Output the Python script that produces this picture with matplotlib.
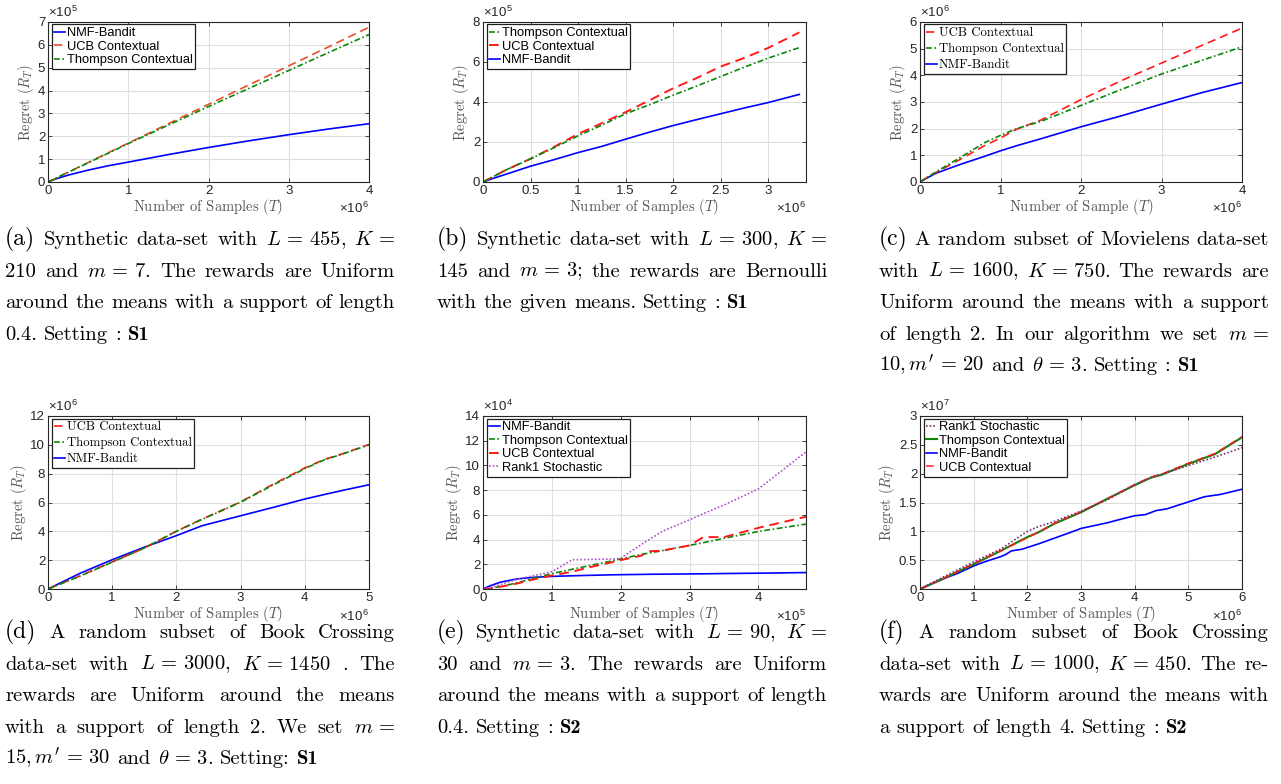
import re
import matplotlib
matplotlib.use('Agg')
import matplotlib.pyplot as plt
from matplotlib.ticker import MultipleLocator, FuncFormatter
from matplotlib.transforms import IdentityTransform

W, H = 1281, 784
plt.rcParams['font.family'] = 'serif'
plt.rcParams['font.serif'] = ['cmr10']
plt.rcParams['mathtext.fontset'] = 'cm'
plt.rcParams['axes.unicode_minus'] = False

# ---------------- data ----------------
# (a)  x in samples, y in regret
A_X = [0, 0.1e6, 0.25e6, 0.5e6, 0.75e6, 1.0e6, 1.5e6, 2.0e6, 2.5e6, 3.0e6, 3.5e6, 4.0e6]
A_NMF = [0, 0.14e5, 0.30e5, 0.52e5, 0.71e5, 0.87e5, 1.20e5, 1.51e5, 1.80e5, 2.07e5, 2.32e5, 2.55e5]
A_UCB = [0, 0.17e5, 0.43e5, 0.85e5, 1.28e5, 1.70e5, 2.55e5, 3.40e5, 4.24e5, 5.08e5, 5.92e5, 6.77e5]
A_TS = [0, 0.17e5, 0.42e5, 0.84e5, 1.26e5, 1.68e5, 2.49e5, 3.30e5, 4.09e5, 4.88e5, 5.67e5, 6.45e5]

# (b)
B_X = [0, 0.1e6, 0.25e6, 0.5e6, 0.75e6, 1.0e6, 1.25e6, 1.5e6, 1.75e6, 2.0e6, 2.25e6, 2.5e6, 2.75e6, 3.0e6, 3.33e6]
B_NMF = [0, 0.17e5, 0.40e5, 0.79e5, 1.12e5, 1.47e5, 1.78e5, 2.14e5, 2.49e5, 2.82e5, 3.12e5, 3.41e5, 3.70e5, 3.97e5, 4.38e5]
B_TS = [0, 0.25e5, 0.62e5, 1.16e5, 1.72e5, 2.31e5, 2.84e5, 3.41e5, 3.86e5, 4.34e5, 4.80e5, 5.27e5, 5.74e5, 6.19e5, 6.72e5]
B_UCB = [0, 0.25e5, 0.62e5, 1.16e5, 1.76e5, 2.40e5, 2.94e5, 3.49e5, 4.08e5, 4.68e5, 5.20e5, 5.77e5, 6.20e5, 6.70e5, 7.48e5]

# (c)
C_X = [0, 0.1e6, 0.2e6, 0.5e6, 0.8e6, 1.0e6, 1.2e6, 1.5e6, 2.0e6, 2.5e6, 3.0e6, 3.5e6, 4.0e6]
C_NMF = [0, 0.17e6, 0.33e6, 0.66e6, 0.96e6, 1.17e6, 1.36e6, 1.62e6, 2.07e6, 2.48e6, 2.92e6, 3.35e6, 3.73e6]
C_TS = [0, 0.20e6, 0.38e6, 0.92e6, 1.47e6, 1.75e6, 2.00e6, 2.27e6, 2.87e6, 3.47e6, 4.05e6, 4.56e6, 5.07e6]
C_UCB = [0, 0.19e6, 0.36e6, 0.85e6, 1.36e6, 1.65e6, 1.98e6, 2.32e6, 3.09e6, 3.80e6, 4.46e6, 5.12e6, 5.77e6]

# (d)
D_X = [0, 0.5e6, 1.0e6, 1.5e6, 2.0e6, 2.4e6, 3.0e6, 3.5e6, 4.0e6, 4.3e6, 4.6e6, 5.0e6]
D_NMF = [0, 1.09e6, 2.03e6, 2.90e6, 3.70e6, 4.39e6, 5.08e6, 5.65e6, 6.24e6, 6.55e6, 6.85e6, 7.23e6]
D_UCB = [0, 0.91e6, 1.88e6, 2.84e6, 4.01e6, 4.85e6, 6.04e6, 7.25e6, 8.40e6, 8.98e6, 9.40e6, 10.02e6]
D_TS = [0, 0.90e6, 1.86e6, 2.84e6, 4.00e6, 4.83e6, 6.02e6, 7.20e6, 8.35e6, 8.95e6, 9.38e6, 10.0e6]

# (e)
E_X = [0, 0.1e5, 0.25e5, 0.5e5, 0.75e5, 1.0e5, 1.3e5, 1.5e5, 1.9e5, 2.0e5, 2.3e5, 2.4e5, 2.6e5,
       3.0e5, 3.2e5, 3.5e5, 4.0e5, 4.69e5]
E_NMF = [0, 0.25e4, 0.55e4, 0.82e4, 0.95e4, 1.02e4, 1.07e4, 1.10e4, 1.15e4, 1.16e4, 1.18e4, 1.19e4, 1.20e4,
         1.22e4, 1.23e4, 1.25e4, 1.28e4, 1.33e4]
E_TS = [0, 0.05e4, 0.20e4, 0.50e4, 0.90e4, 1.25e4, 1.60e4, 1.84e4, 2.30e4, 2.43e4, 2.80e4, 2.90e4, 3.10e4,
        3.53e4, 3.75e4, 4.10e4, 4.66e4, 5.25e4]
E_UCB = [0, 0.04e4, 0.18e4, 0.45e4, 0.80e4, 1.10e4, 1.40e4, 1.70e4, 2.20e4, 2.34e4, 2.70e4, 3.05e4, 3.10e4,
         3.53e4, 4.20e4, 4.20e4, 4.95e4, 5.85e4]
E_R1 = [0, 0.10e4, 0.35e4, 0.80e4, 1.10e4, 1.40e4, 2.37e4, 2.38e4, 2.43e4, 2.50e4, 3.60e4, 3.95e4, 4.66e4,
        5.60e4, 6.10e4, 6.80e4, 8.10e4, 11.1e4]

# (f)
F_X_NMF = [0, 0.3e6, 0.5e6, 0.7e6, 1.0e6, 1.2e6, 1.4e6, 1.5e6, 1.6e6, 1.7e6, 1.9e6, 2.0e6, 2.2e6, 2.5e6,
           2.8e6, 3.0e6, 3.2e6, 3.5e6, 3.7e6, 4.0e6, 4.2e6, 4.4e6, 4.6e6, 5.0e6, 5.3e6, 5.6e6, 6.0e6]
F_NMF = [0, 0.12e7, 0.20e7, 0.27e7, 0.40e7, 0.47e7, 0.53e7, 0.56e7, 0.60e7, 0.66e7, 0.69e7, 0.72e7, 0.78e7,
         0.88e7, 0.98e7, 1.05e7, 1.09e7, 1.15e7, 1.20e7, 1.27e7, 1.29e7, 1.36e7, 1.39e7, 1.51e7, 1.60e7,
         1.64e7, 1.73e7]
F_X = [0, 0.5e6, 1.0e6, 1.5e6, 2.0e6, 2.2e6, 2.5e6, 3.0e6, 3.5e6, 4.0e6, 4.3e6, 4.5e6, 5.0e6, 5.5e6, 6.0e6]
F_TS = [0, 0.21e7, 0.43e7, 0.66e7, 0.90e7, 0.98e7, 1.13e7, 1.33e7, 1.57e7, 1.80e7, 1.93e7, 1.98e7, 2.17e7,
        2.34e7, 2.63e7]
F_UCB = [0, 0.21e7, 0.44e7, 0.66e7, 0.89e7, 0.98e7, 1.14e7, 1.34e7, 1.57e7, 1.81e7, 1.94e7, 1.99e7, 2.18e7,
         2.35e7, 2.64e7]
F_R1 = [0, 0.24e7, 0.47e7, 0.69e7, 1.00e7, 1.08e7, 1.17e7, 1.35e7, 1.55e7, 1.81e7, 1.93e7, 1.99e7, 2.14e7,
        2.29e7, 2.45e7]

# words wrapped in ** are set in bold
CAPTIONS = {
    'a': [r"(a) Synthetic data-set with $L\,=\,455$, $K\,=$",
          r"210 and $m\,=\,7$. The rewards are Uniform",
          "around the means with a support of length",
          "0.4. Setting : **S1**"],
    'b': [r"(b) Synthetic data-set with $L\,=\,300$, $K\,=$",
          r"145 and $m\,=\,3$; the rewards are Bernoulli",
          "with the given means. Setting : **S1**"],
    'c': ["(c) A random subset of Movielens data-set",
          r"with $L\,=\,1600$, $K\,=\,750$. The rewards are",
          "Uniform around the means with a support",
          r"of length 2. In our algorithm we set $m\,=$",
          r"$10,m'\,=\,20$ and $\theta\,=\,3$. Setting : **S1**"],
    'd': ["(d) A random subset of Book Crossing",
          r"data-set with $L\,=\,3000$, $K\,=\,1450$ . The",
          "rewards are Uniform around the means",
          r"with a support of length 2. We set $m\,=$",
          r"$15,m'\,=\,30$ and $\theta\,=\,3$. Setting: **S1**"],
    'e': [r"(e) Synthetic data-set with $L\,=\,90$, $K\,=$",
          r"30 and $m\,=\,3$. The rewards are Uniform",
          "around the means with a support of length",
          "0.4. Setting : **S2**"],
    'f': ["(f) A random subset of Book Crossing",
          r"data-set with $L\,=\,1000$, $K\,=\,450$. The re-",
          "wards are Uniform around the means with",
          "a support of length 4. Setting : **S2**"],
}

# ---------------- styling ----------------
BLUE = '#0000ff'
RED = '#ff1a1a'
ORANGE = '#e4502a'
GREEN = '#0a870a'
PURPLE = '#b050d0'
DPURPLE = '#7a2e6e'
AXC = '#262626'
LABC = '#555555'
SANS = 'Liberation Sans'

fig = plt.figure(figsize=(W / 100, H / 100), dpi=100)


def make_ax(l, t, r, b):
    return fig.add_axes([l / W, 1 - b / H, (r - l) / W, (b - t) / H])


def style(ax, xlim, ylim, xstep, ystep, xexp, yexp, xlabel):
    ax.set_xlim(xlim)
    ax.set_ylim(ylim)
    ax.xaxis.set_major_locator(MultipleLocator(xstep))
    ax.yaxis.set_major_locator(MultipleLocator(ystep))
    ax.xaxis.set_major_formatter(FuncFormatter(lambda v, p, e=xexp: f"{v / 10 ** e:g}"))
    ax.yaxis.set_major_formatter(FuncFormatter(lambda v, p, e=yexp: f"{v / 10 ** e:g}"))
    ax.grid(True, color='#dedede', lw=0.8)
    ax.set_axisbelow(True)
    ax.tick_params(direction='in', length=3, width=0.6, top=True, right=True,
                   colors=AXC, labelsize=9.5, pad=2, labelfontfamily=SANS)
    for s in ax.spines.values():
        s.set_color(AXC)
        s.set_linewidth(0.8)
    ax.set_xlabel(xlabel, fontsize=10.5, color=LABC, labelpad=0.5)
    ax.set_ylabel('Regret ($R_T$)', fontsize=10.5, color=LABC, labelpad=1)
    ax.text(0.0, 1.012, '×10$^{\\mathdefault{%d}}$' % yexp, transform=ax.transAxes,
            fontsize=9.5, color=AXC, family=SANS, ha='left', va='bottom')
    ax.text(1.0, -0.115, '×10$^{\\mathdefault{%d}}$' % xexp, transform=ax.transAxes,
            fontsize=9.5, color=AXC, family=SANS, ha='right', va='top')


def legend(ax, order, family):
    h, l = ax.get_legend_handles_labels()
    d = dict(zip(l, h))
    serif = family != SANS
    lg = ax.legend([d[k] for k in order], order, loc='upper left', bbox_to_anchor=(0.012, 0.985),
                   borderaxespad=0, frameon=True, fancybox=False, framealpha=1, edgecolor='#202020',
                   borderpad=0.2, labelspacing=0.3 if serif else 0.12, handlelength=0.85,
                   handletextpad=0.12,
                   prop={'family': family, 'size': 9.2 if serif else 9.3})
    lg.get_frame().set_linewidth(0.9)


DASH = (0, (5, 3))
DASHDOT = (0, (3.5, 1.5, 1, 1.5))
DOT = (0, (1, 1.2))
LW = 1.2

R1T, R1B = 22, 182
R2T, R2B = 416, 589

# (a)
ax = make_ax(48, R1T, 369, R1B)
ax.plot(A_X, A_NMF, color=BLUE, lw=LW, label='NMF-Bandit')
ax.plot(A_X, A_UCB, color=ORANGE, lw=LW, ls=DASH, label='UCB Contextual')
ax.plot(A_X, A_TS, color=GREEN, lw=LW, ls=DASHDOT, label='Thompson Contextual')
style(ax, (0, 4e6), (0, 7e5), 1e6, 1e5, 6, 5, 'Number of Samples ($T$)')
legend(ax, ['NMF-Bandit', 'UCB Contextual', 'Thompson Contextual'], SANS)

# (b)
ax = make_ax(483, R1T, 806, R1B)
ax.plot(B_X, B_NMF, color=BLUE, lw=LW, label='NMF-Bandit')
ax.plot(B_X, B_UCB, color=RED, lw=1.4, ls=DASH, label='UCB Contextual')
ax.plot(B_X, B_TS, color=GREEN, lw=LW, ls=DASHDOT, label='Thompson Contextual')
style(ax, (0, 3.4e6), (0, 8e5), 0.5e6, 2e5, 6, 5, 'Number of Samples ($T$)')
legend(ax, ['Thompson Contextual', 'UCB Contextual', 'NMF-Bandit'], SANS)

# (c)
ax = make_ax(920, R1T, 1242, R1B)
ax.plot(C_X, C_NMF, color=BLUE, lw=LW, label='NMF-Bandit')
ax.plot(C_X, C_UCB, color=RED, lw=LW, ls=DASH, label='UCB Contextual')
ax.plot(C_X, C_TS, color=GREEN, lw=LW, ls=DASHDOT, label='Thompson Contextual')
style(ax, (0, 4e6), (0, 6e6), 1e6, 1e6, 6, 6, 'Number of Sample ($T$)')
legend(ax, ['UCB Contextual', 'Thompson Contextual', 'NMF-Bandit'], 'cmr10')

# (d)
ax = make_ax(48, R2T, 369, R2B)
ax.plot(D_X, D_NMF, color=BLUE, lw=LW, label='NMF-Bandit')
ax.plot(D_X, D_UCB, color=RED, lw=LW, ls=DASH, label='UCB Contextual')
ax.plot(D_X, D_TS, color=GREEN, lw=LW, ls=DASHDOT, label='Thompson Contextual')
style(ax, (0, 5e6), (0, 12e6), 1e6, 2e6, 6, 6, 'Number of Samples ($T$)')
legend(ax, ['UCB Contextual', 'Thompson Contextual', 'NMF-Bandit'], 'cmr10')

# (e)
ax = make_ax(483, R2T, 806, R2B)
ax.plot(E_X, E_NMF, color=BLUE, lw=LW, label='NMF-Bandit')
ax.plot(E_X, E_TS, color=GREEN, lw=LW, ls=DASHDOT, label='Thompson Contextual')
ax.plot(E_X, E_UCB, color=RED, lw=1.4, ls=DASH, label='UCB Contextual')
ax.plot(E_X, E_R1, color=PURPLE, lw=LW, ls=DOT, label='Rank1 Stochastic')
style(ax, (0, 4.69e5), (0, 14e4), 1e5, 2e4, 5, 4, 'Number of Samples ($T$)')
legend(ax, ['NMF-Bandit', 'Thompson Contextual', 'UCB Contextual', 'Rank1 Stochastic'], SANS)

# (f)
ax = make_ax(920, R2T, 1242, R2B)
ax.plot(F_X_NMF, F_NMF, color=BLUE, lw=LW, label='NMF-Bandit')
ax.plot(F_X, F_TS, color=GREEN, lw=1.5, label='Thompson Contextual')
ax.plot(F_X, F_UCB, color=RED, lw=1.1, ls=DASH, label='UCB Contextual')
ax.plot(F_X, F_R1, color=DPURPLE, lw=LW, ls=DOT, label='Rank1 Stochastic')
style(ax, (0, 6e6), (0, 3e7), 1e6, 0.5e7, 6, 7, 'Number of Samples ($T$)')
legend(ax, ['Rank1 Stochastic', 'Thompson Contextual', 'NMF-Bandit', 'UCB Contextual'], SANS)

# ---------------- captions (justified) ----------------
renderer = fig.canvas.get_renderer()
CAP_SIZE = 14.8


def caption(lines, x0, y0, width, lh=31.6):
    space = CAP_SIZE * 100 / 72 * 0.34
    for i, line in enumerate(lines):
        toks = line.split(' ')
        ybase = H - (y0 + i * lh) - 5
        objs, widths = [], []
        for tk in toks:
            fam = 'cmr10'
            if tk.startswith('**') and tk.endswith('**'):
                tk = tk[2:-2]
                fam = 'cmb10'
            fs = CAP_SIZE * 1.15 if re.fullmatch(r'\([a-f]\)', tk) else CAP_SIZE
            t = fig.text(0, ybase, tk, fontsize=fs, family=fam, transform=IdentityTransform(),
                         ha='left', va='baseline', color='black')
            objs.append(t)
            widths.append(t.get_window_extent(renderer).width)
        last = (i == len(lines) - 1)
        if last or len(toks) == 1:
            gap = space
        else:
            gap = (width - sum(widths)) / (len(toks) - 1)
        x = x0
        for t, w in zip(objs, widths):
            t.set_x(x)
            x += w + gap


COLX = [5, 437, 879]
CW = 390
caption(CAPTIONS['a'], COLX[0], 240, CW)
caption(CAPTIONS['b'], COLX[1], 240, CW)
caption(CAPTIONS['c'], COLX[2], 240, CW)
caption(CAPTIONS['d'], COLX[0], 633, CW)
caption(CAPTIONS['e'], COLX[1], 633, CW)
caption(CAPTIONS['f'], COLX[2], 633, CW)

fig.savefig('out.png', dpi=100)
